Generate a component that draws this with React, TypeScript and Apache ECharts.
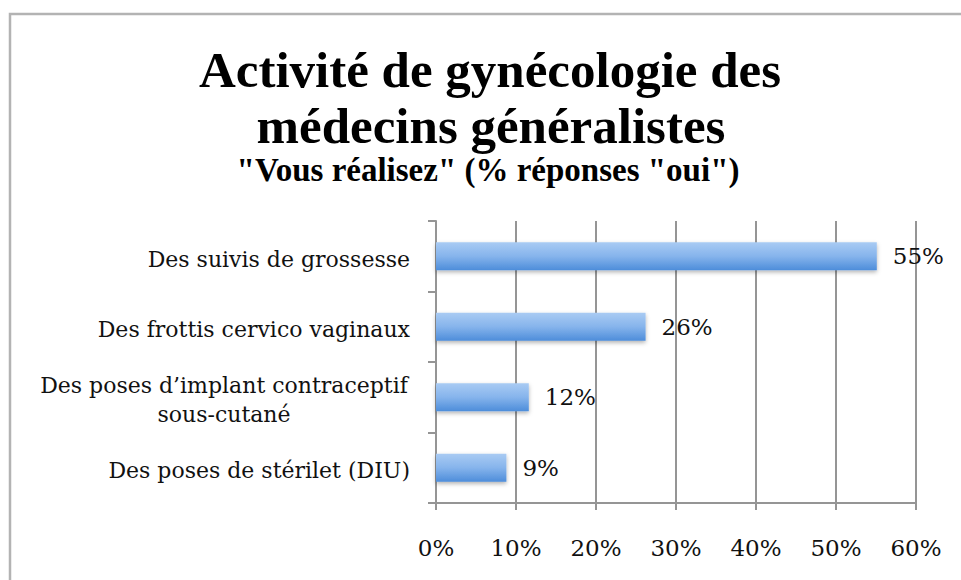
import React, { useEffect, useRef } from "react";
import * as echarts from "echarts";

const titleLines = ["Activité de gynécologie des", "médecins généralistes"];
const subtitle = "\"Vous réalisez\" (% réponses \"oui\")";
const categories = [
  "Des poses de stérilet (DIU)",
  "Des poses d’implant contraceptif\nsous-cutané",
  "Des frottis cervico vaginaux",
  "Des suivis de grossesse",
];
const values = [8.8, 11.6, 26.2, 55.1];
const xTicks = [0, 10, 20, 30, 40, 50, 60];

const SERIF = "'DejaVu Serif', serif";
const TITLE_FONT = "'Liberation Serif', 'DejaVu Serif', serif";

export default function App() {
  const ref = useRef<HTMLDivElement>(null);
  useEffect(() => {
    document.body.style.margin = "0";
    if (!ref.current) return;
    const chart = echarts.init(ref.current, null, { renderer: "svg" });
    const grid = "#959595";
    chart.setOption({
      animation: false,
      backgroundColor: "#ffffff",
      graphic: [
        {
          type: "rect",
          z: -10,
          shape: { x: 10, y: 14, width: 1000, height: 1000 },
          style: { fill: "none", stroke: "#b3b3b3", lineWidth: 2.5 },
        },
        {
          type: "text",
          x: 490,
          y: 70,
          style: {
            text: titleLines[0],
            fontFamily: TITLE_FONT,
            fontWeight: "bold",
            fontSize: 51,
            fill: "#000",
            textAlign: "center",
            textVerticalAlign: "middle",
          },
        },
        {
          type: "text",
          x: 491,
          y: 126,
          style: {
            text: titleLines[1],
            fontFamily: TITLE_FONT,
            fontWeight: "bold",
            fontSize: 51,
            fill: "#000",
            textAlign: "center",
            textVerticalAlign: "middle",
          },
        },
        {
          type: "text",
          x: 488,
          y: 170,
          style: {
            text: subtitle,
            fontFamily: TITLE_FONT,
            fontWeight: "bold",
            fontSize: 33,
            fill: "#000",
            textAlign: "center",
            textVerticalAlign: "middle",
          },
        },
      ],
      grid: { left: 436, right: 45, top: 221, bottom: 77, containLabel: false },
      xAxis: {
        type: "value",
        min: xTicks[0],
        max: xTicks[xTicks.length - 1],
        interval: 10,
        axisLine: { show: true, lineStyle: { color: grid, width: 2 } },
        axisTick: { show: true, length: 7, lineStyle: { color: grid, width: 2 } },
        splitLine: { show: true, lineStyle: { color: grid, width: 2 } },
        axisLabel: {
          formatter: "{value}%",
          margin: 33,
          fontFamily: SERIF,
          fontSize: 23,
          color: "#111",
        },
      },
      yAxis: {
        type: "category",
        data: categories,
        axisLine: { show: true, lineStyle: { color: grid, width: 2 } },
        axisTick: { show: true, length: 8, lineStyle: { color: grid, width: 2 } },
        axisLabel: {
          margin: 26,
          fontFamily: SERIF,
          fontSize: 22,
          color: "#111",
          lineHeight: 29,
          padding: [6, 0, 0, 0],
          formatter: (v: string) => {
            if (v.indexOf("\n") >= 0) {
              return v
                .split("\n")
                .map((s) => "{c|" + s + "}")
                .join("\n");
            }
            return v;
          },
          rich: {
            c: {
              width: 372,
              align: "center",
              fontFamily: SERIF,
              fontSize: 22,
              color: "#111",
              lineHeight: 29,
            },
          },
        },
      },
      series: [
        {
          type: "bar",
          data: values,
          barWidth: 28,
          itemStyle: {
            color: new echarts.graphic.LinearGradient(0, 0, 0, 1, [
              { offset: 0, color: "#a9cbf3" },
              { offset: 0.5, color: "#86b4ec" },
              { offset: 1, color: "#4d8dda" },
            ]),
            shadowColor: "rgba(0,0,0,0.3)",
            shadowBlur: 4,
            shadowOffsetY: 2,
          },
          label: {
            show: true,
            position: "right",
            distance: 16,
            fontFamily: SERIF,
            fontSize: 23,
            color: "#111",
            formatter: (p: any) => Math.round(p.value) + "%",
          },
        },
      ],
    });
    return () => chart.dispose();
  }, []);
  return (
    <div
      ref={ref}
      style={{ position: "absolute", left: 0, top: 0, width: 961, height: 580 }}
    />
  );
}
